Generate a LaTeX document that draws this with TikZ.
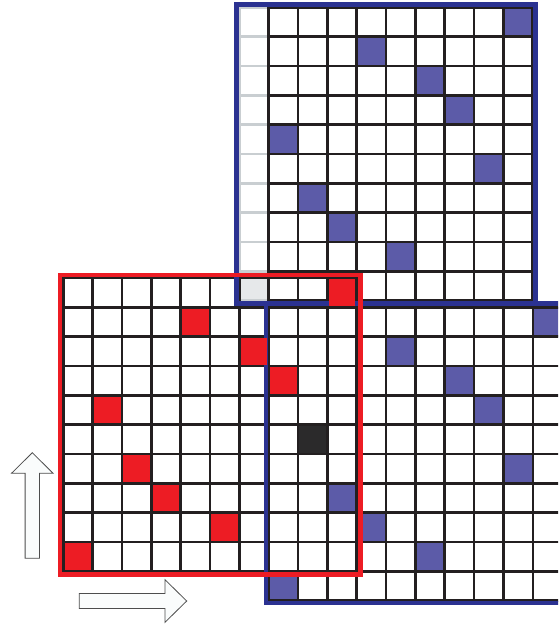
\documentclass[tikz,border=0pt]{standalone}
\usepackage{xcolor}
\definecolor{gridink}{HTML}{231F20}
\definecolor{fadeink}{HTML}{C9CED1}
\definecolor{fadecell}{HTML}{E6E8EA}
\definecolor{markblue}{HTML}{5C5BA8}
\definecolor{frameblue}{HTML}{2B3291}
\definecolor{markred}{HTML}{ED1C24}
\definecolor{hitblack}{HTML}{2B2A2B}
\definecolor{arrowink}{HTML}{4D4D4D}
\definecolor{arrowfill}{HTML}{FAFCFC}

\begin{document}
\begin{tikzpicture}[x=1pt, y=-1pt,
  gl/.style={draw=gridink, line width=2.5pt, line cap=rect},
  fl/.style={draw=fadeink, line width=2.5pt, line cap=rect},
  bfr/.style={draw=frameblue, line width=4.2pt},
  rfr/.style={draw=markred, line width=4.4pt},
  bmark/.style={fill=markblue},
  rmark/.style={fill=markred},
  hit/.style={fill=hitblack},
  blockarrow/.style={draw=arrowink, line width=0.8pt, fill=arrowfill, line join=miter}]
\def\csz{29.34}
\useasboundingbox (0,0) rectangle (558,625);
\clip (0,0) rectangle (558,625);
\foreach \p [count=\r from 0] in {9,4,6,7,1,8,2,3,5}
  \fill[bmark] ({239.3+\p*\csz},{7.3+\r*\csz}) rectangle +(\csz,\csz);
\fill[fadecell] (239.3,{7.3+9*\csz}) rectangle +(\csz,\csz);
\foreach \p [count=\r from 0] in {9,4,6,7,1,8,2,3,5,0}
  \fill[bmark] ({268.7+\p*\csz},{307.3+\r*\csz}) rectangle +(\csz,\csz);
\foreach \k in {0,...,10} \draw[fl] (239.3,{7.3+\k*\csz}) -- +(\csz,0);
\draw[fl] (239.3,7.3) -- +(0,{10*\csz});
\foreach \k in {0,...,10} \draw[gl] ({239.3+\csz},{7.3+\k*\csz}) -- +({9*\csz},0);
\foreach \k in {1,...,10} \draw[gl] ({239.3+\k*\csz},7.3) -- +(0,{10*\csz});
\foreach \k in {0,...,10} {
  \draw[gl] (268.7,{307.3+\k*\csz}) -- +({10*\csz},0);
  \draw[gl] ({268.7+\k*\csz},307.3) -- +(0,{10*\csz});
}
\foreach \k in {0,...,10} {
  \draw[gl] (63.3,{278+\k*\csz}) -- +({10*\csz},0);
  \draw[gl] ({63.3+\k*\csz},278) -- +(0,{10*\csz});
}
\draw[bfr] (236.5,4.5) rectangle (535.5,303.5);
\draw[bfr] (265.7,303.5) rectangle (565,602.7);
\foreach \p [count=\r from 0] in {9,4,6,7,1,8,2,3,5,0}
  \fill[rmark] ({64.55+\p*\csz},{279.25+\r*\csz}) rectangle +({\csz-2.5},{\csz-2.5});
\fill[hit] ({64.55+8*\csz},{279.25+5*\csz}) rectangle +({\csz-2.5},{\csz-2.5});
\draw[rfr] (60,274.7) rectangle (360.3,574.5);
\draw[blockarrow] (25.1,558.3) -- (25.1,473.3) -- (11.5,473.3) -- (32.3,452.7)
  -- (53.1,473.3) -- (39.5,473.3) -- (39.5,558.3) -- cycle;
\draw[blockarrow] (79.3,593.5) -- (165,593.5) -- (165,579.7) -- (186.7,601)
  -- (165,622.3) -- (165,608.5) -- (79.3,608.5) -- cycle;
\end{tikzpicture}
\end{document}
